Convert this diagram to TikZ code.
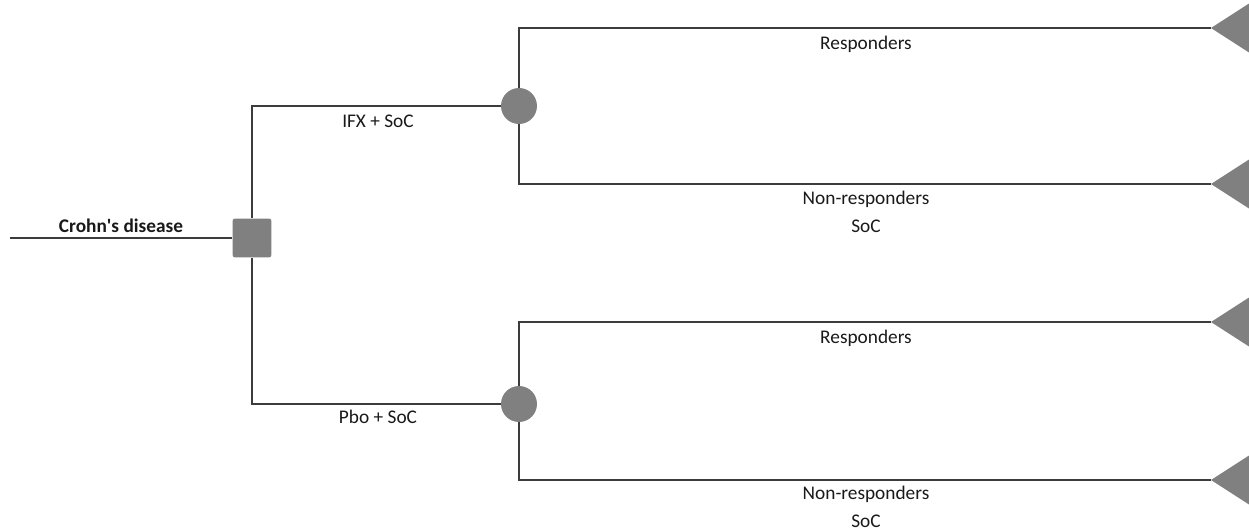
\documentclass[tikz,border=0pt]{standalone}
\usepackage{fontspec}
\setmainfont{Carlito}
\definecolor{treegray}{RGB}{128,128,128}
\definecolor{treeline}{RGB}{60,60,60}
\definecolor{treetext}{RGB}{25,25,25}
\usetikzlibrary{positioning}

\begin{document}
\begin{tikzpicture}[x=0.02cm,y=-0.02cm,font=\fontsize{11}{13}\selectfont,
  branch/.style={draw=treeline,line width=0.7pt},
  lbl/.style={text=treetext,inner sep=0pt}]
  \useasboundingbox (0,0) rectangle (1249,531);
  % decision and chance nodes
  \coordinate (root) at (10,238);
  \node[fill=treegray,rounded corners=1.5pt,minimum size=0.78cm] (dec) at (252,238) {};
  \node[fill=treegray,circle,minimum size=0.72cm] (c1) at (519,106) {};
  \node[fill=treegray,circle,minimum size=0.72cm] (c2) at (519,404) {};
  % terminal nodes
  \coordinate (t1) at (1211,28);
  \coordinate (t2) at (1211,184);
  \coordinate (t3) at (1211,322);
  \coordinate (t4) at (1211,480);
  \foreach \t in {t1,t2,t3,t4} {\fill[treegray] (\t) -- ++(45,-29) -- ++(0,58) -- cycle;}
  % branches
  \draw[branch] (root) -- (dec);
  \draw[branch] (dec.north) |- (c1);
  \draw[branch] (dec.south) |- (c2);
  \foreach \c/\a/\b in {c1/t1/t2,c2/t3/t4} {\draw[branch] (\c.north) |- (\a); \draw[branch] (\c.south) |- (\b);}
  % labels
  \node[lbl,font=\fontsize{11}{13}\selectfont\bfseries] (crohn) at (121,226) {Crohn\textquotesingle s disease};
  \node[lbl] (ifx) at (378,121) {IFX + SoC};
  \node[lbl] (pbo) at (378,417) {Pbo + SoC};
  \node[lbl] (r1) at (866,44) {Responders};
  \node[lbl] (n1) at (866,199) {Non-responders};
  \node[lbl] (s1) at (866,226) {SoC};
  \node[lbl] (r2) at (866,338) {Responders};
  \node[lbl] (n2) at (866,494) {Non-responders};
  \node[lbl] (s2) at (866,521) {SoC};
\end{tikzpicture}
\end{document}
